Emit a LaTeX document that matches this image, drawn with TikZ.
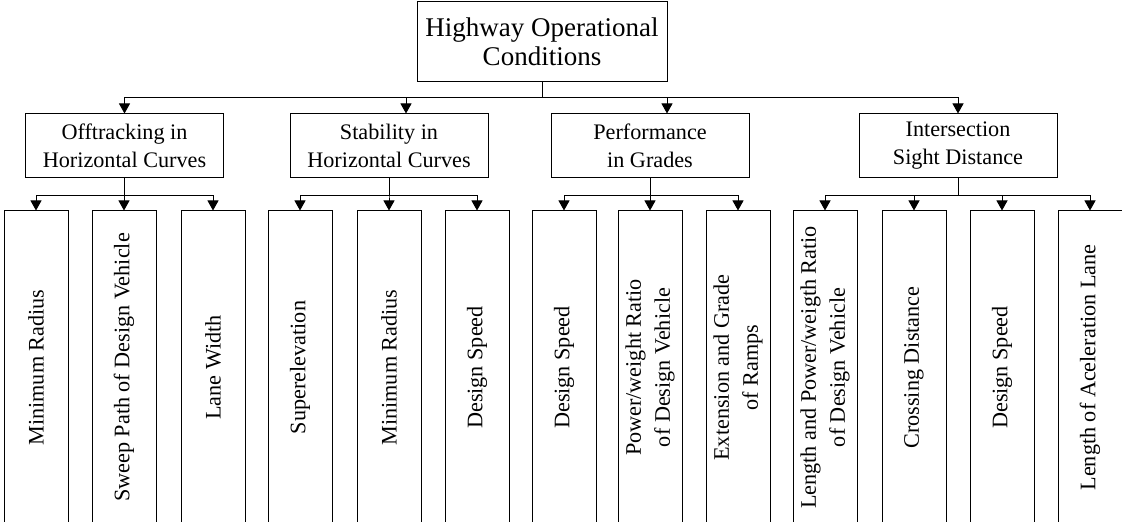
\documentclass[tikz,border=0pt]{standalone}
\usepackage{fontspec}
\setmainfont{Liberation Serif}
\usetikzlibrary{arrows.meta, positioning}

\begin{document}
\begin{tikzpicture}[x = 0.5pt, y = -0.5pt, line width = 0.5pt,
			> = {Triangle[width=5.5pt, length=5pt]},
			mainbox/.style = {draw, align=center, inner sep=0pt,
				minimum width=125pt, minimum height=40pt,
				font=\fontsize{13.5}{14.5}\selectfont},
			groupbox/.style = {draw, align=center, inner sep=0pt,
				minimum width=99pt, minimum height=32pt,
				font=\fontsize{11.1}{14}\selectfont},
			leafbox/.style = {draw, align=center, inner sep=0pt, rotate=90,
				minimum width=156.5pt, minimum height=32pt,
				font=\fontsize{11.1}{14.5}\selectfont}]
			\useasboundingbox (0,0) rectangle (1122,522);
			
			\node[mainbox] (hoc) at (542,42) {Highway Operational\\Conditions};
			%
			\node[groupbox] (off) at (124.5,146) {Offtracking in\\Horizontal Curves};
			\node[groupbox] (sta) at (389,146) {Stability in\\Horizontal Curves};
			\node[groupbox] (per) at (650,146) {Performance\\in Grades};
			\node[groupbox] (isd) at (958,146) {Intersection\\Sight Distance};
			%
			\node[leafbox] (lmr) at (36,367.5) {Minimum Radius};
			\node[leafbox] (lsp) at (124,367.5) {Sweep Path of Design Vehicle};
			\node[leafbox] (llw) at (213,367.5) {Lane Width};
			\node[leafbox] (sse) at (300,367.5) {Superelevation};
			\node[leafbox] (smr) at (389,367.5) {Minimum Radius};
			\node[leafbox] (sds) at (477,367.5) {Design Speed};
			\node[leafbox] (pds) at (564,367.5) {Design Speed};
			\node[leafbox] (ppw) at (650,367.5) {Power/weight Ratio\\of Design Vehicle};
			\node[leafbox] (pex) at (738,367.5) {Extension and Grade\\of Ramps};
			\node[leafbox] (ilp) at (825,367.5) {Length and Power/weigth Ratio\\of Design Vehicle};
			\node[leafbox] (icd) at (914,367.5) {Crossing Distance};
			\node[leafbox] (ids) at (1002,367.5) {Design Speed};
			\node[leafbox] (ial) at (1090,367.5) {Length of Aceleration Lane};
			
			\coordinate (topbus) at (542,98);
			\draw[->] (hoc.south) -- (topbus) -| (off.north);
			\draw[->] (hoc.south) -- (topbus) -| ([xshift=8.5pt]sta.north);
			\draw[->] (hoc.south) -- (topbus) -| ([xshift=8.5pt]per.north);
			\draw[->] (hoc.south) -- (topbus) -| (isd.north);
			
			\draw[->] (off.south) -- ++(0,17) -| (lmr.east);
			\draw[->] (off.south) -- ++(0,17) -| (lsp.east);
			\draw[->] (off.south) -- ++(0,17) -| (llw.east);
			\draw[->] (sta.south) -- ++(0,17) -| (sse.east);
			\draw[->] (sta.south) -- ++(0,17) -| (smr.east);
			\draw[->] (sta.south) -- ++(0,17) -| (sds.east);
			\draw[->] (per.south) -- ++(0,17) -| (pds.east);
			\draw[->] (per.south) -- ++(0,17) -| (ppw.east);
			\draw[->] (per.south) -- ++(0,17) -| (pex.east);
			\draw[->] (isd.south) -- ++(0,17) -| (ilp.east);
			\draw[->] (isd.south) -- ++(0,17) -| (icd.east);
			\draw[->] (isd.south) -- ++(0,17) -| (ids.east);
			\draw[->] (isd.south) -- ++(0,17) -| (ial.east);
		\end{tikzpicture}
\end{document}
